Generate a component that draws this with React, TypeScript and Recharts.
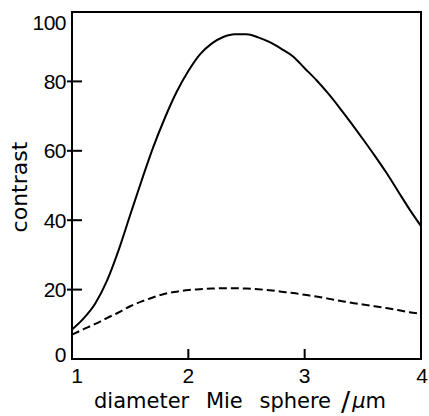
import { LineChart, Line, XAxis, YAxis, ReferenceArea } from 'recharts';

const diameters = [
  1.0, 1.1, 1.2, 1.3, 1.4, 1.5, 1.6, 1.7, 1.8, 1.9, 2.0, 2.1, 2.2, 2.3, 2.4, 2.5,
  2.6, 2.7, 2.8, 2.9, 3.0, 3.1, 3.2, 3.3, 3.4, 3.5, 3.6, 3.7, 3.8, 3.9, 4.0,
];
const contrastSolid = [
  8.5, 11.7, 16, 22.5, 31.3, 41.5, 51.6, 61.2, 69.6, 77, 83, 87.8, 90.9, 92.8, 93.6, 93.6,
  92.7, 91.3, 89.4, 87.2, 83.8, 80.4, 76.6, 72.4, 68, 63.4, 58.7, 53.8, 48.5, 43.2, 38.3,
];
const contrastDashed = [
  7.0, 8.6, 10.1, 11.8, 13.4, 15.2, 16.6, 17.8, 18.8, 19.4, 19.9, 20.1, 20.3, 20.4, 20.4, 20.3,
  20.1, 19.8, 19.4, 19, 18.5, 18, 17.4, 16.8, 16.2, 15.7, 15.2, 14.7, 14.1, 13.5, 13,
];
const xTicks = [1, 2, 3, 4];
const yTicks = [0, 20, 40, 60, 80, 100];

const data = diameters.map((d, i) => ({ d, solid: contrastSolid[i], dashed: contrastDashed[i] }));

const tickFont = "'Liberation Sans', Arial, sans-serif";
const labelFont = "'DejaVu Sans', sans-serif";

const YTick = (props: any) => {
  const { x, y, payload } = props;
  const v = payload.value;
  const edge = v === 0 || v === 100;
  const dy = v === 100 ? 10 : v === 0 ? -5 : 0;
  return (
    <g>
      {!edge && <line x1={x - 5} x2={x + 10} y1={y} y2={y} stroke="#000" strokeWidth={2} />}
      <text x={x - 6} y={y + dy} textAnchor="end" dominantBaseline="central"
        fontFamily={tickFont} fontSize={21} letterSpacing={-0.5} fill="#000">{v}</text>
    </g>
  );
};

const XTick = (props: any) => {
  const { x, y, payload } = props;
  const v = payload.value;
  const edge = v === 1 || v === 4;
  const dx = v === 1 ? 5 : v === 4 ? 1 : 0;
  return (
    <g>
      {!edge && <line x1={x} x2={x} y1={y} y2={y - 10} stroke="#000" strokeWidth={2} />}
      <text x={x + dx} y={y + 16} textAnchor="middle" dominantBaseline="central"
        fontFamily={tickFont} fontSize={21} fill="#000">{v}</text>
    </g>
  );
};

const XLabel = (props: any) => {
  const vb = props.viewBox;
  return (
    <text x={vb.x + 168} y={vb.y + 49} textAnchor="middle" fontFamily={labelFont}
      fontSize={21} wordSpacing={10} fill="#000">
      diameter Mie sphere
      <tspan dx={10} fontSize={27} dy={3}>/</tspan>
      <tspan dx={2} dy={-3} fontStyle="italic">μ</tspan>
      <tspan>m</tspan>
    </text>
  );
};

const YLabel = () => (
  <text x={19} y={187} transform="rotate(-90 19 187)" textAnchor="middle" dominantBaseline="central"
    fontFamily={labelFont} fontSize={22} fill="#000">contrast</text>
);

export default function App() {
  return (
    <div style={{ position: 'absolute', left: 0, top: 0, background: '#fff' }}>
      <LineChart width={429} height={416} data={data} margin={{ top: 12, right: 8, left: 0, bottom: 0 }}>
        <XAxis dataKey="d" type="number" domain={[1, 4]} ticks={xTicks} height={57}
          axisLine={{ stroke: '#000', strokeWidth: 2 }} tickLine={false} tickSize={0} tickMargin={0}
          tick={<XTick />} label={<XLabel />} allowDataOverflow />
        <YAxis type="number" domain={[0, 100]} ticks={yTicks} width={72}
          axisLine={{ stroke: '#000', strokeWidth: 2 }} tickLine={false} tickSize={0} tickMargin={0}
          tick={<YTick />} label={<YLabel />} allowDataOverflow />
        <ReferenceArea x1={1} x2={4} y1={0} y2={100} fill="none" stroke="#000" strokeWidth={2} />
        <Line type="monotone" dataKey="solid" stroke="#000" strokeWidth={2} dot={false} isAnimationActive={false} />
        <Line type="monotone" dataKey="dashed" stroke="#000" strokeWidth={2} strokeDasharray="8 4" dot={false} isAnimationActive={false} />
      </LineChart>
    </div>
  );
}
